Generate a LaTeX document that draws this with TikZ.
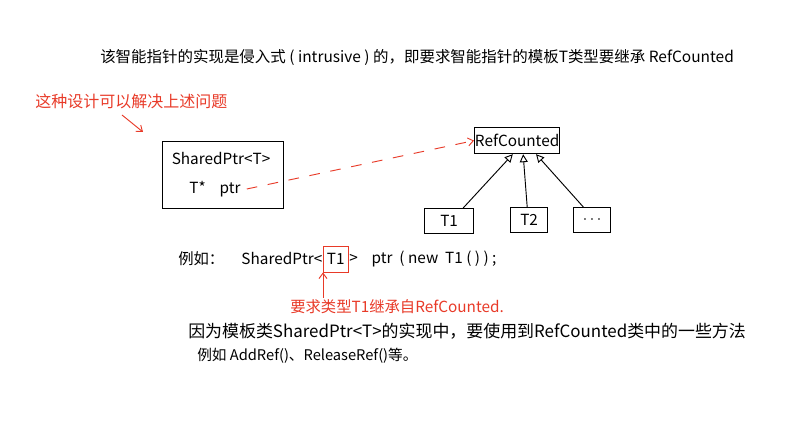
\documentclass[tikz,border=0pt]{standalone}
\usepackage{fontspec}
\setmainfont{Noto Sans CJK SC}
\usetikzlibrary{arrows.meta,calc}
\definecolor{penred}{RGB}{232,58,40}
\tikzset{
  txt/.style={inner sep=0pt, anchor=west, font=\fontsize{11.5}{13}\selectfont},
  redtxt/.style={txt, text=penred},
  box/.style={draw=black, line width=0.9pt, inner sep=0pt},
  inh/.style={draw=black, line width=0.7pt, -{Triangle[open,length=6pt,width=6pt]}},
  redarr/.style={draw=penred, line width=0.7pt, -{Straight Barb[length=4pt,width=6pt]}},
}
\begin{document}
\begin{tikzpicture}[x=0.75pt,y=-0.75pt]
\useasboundingbox (0,0) rectangle (798,434);
% top sentence
\node[txt, font=\fontsize{11.6}{13}\selectfont] (top) at (100,57) {该智能指针的实现是侵入式 ( intrusive ) 的，即要求智能指针的模板T类型要继承 RefCounted};
% red remark
\node[redtxt, font=\fontsize{12}{14}\selectfont] (remark) at (35,101) {这种设计可以解决上述问题};
\coordinate (rmA) at (122,115);
\coordinate (rmB) at (143,132);
\draw[redarr] (rmA) -- (rmB);
% SharedPtr box
\node[box, minimum width=121*0.75pt, minimum height=67*0.75pt, anchor=north west] (sp) at (162,141) {};
\node[txt, anchor=center] (spname) at (221,158) {SharedPtr<T>};
\node[txt, anchor=center] (ptr) at (215,189) {T*\ \ \ \ ptr};
% RefCounted
\node[box, minimum width=85*0.75pt, minimum height=26*0.75pt, anchor=north west] (rc) at (474,127) {};
\node[txt, anchor=center] (rclabel) at (rc.center) {RefCounted};
\coordinate (ptrend) at ($(ptr.east)+(6,0)$);
\draw[penred, line width=0.7pt, dash pattern=on 8pt off 8pt, -{Straight Barb[length=4pt,width=6pt]}] (ptrend) -- (rc.west);
% derived
\node[box, minimum width=49*0.75pt, minimum height=25*0.75pt, anchor=north west] (t1) at (424,208) {};
\node[txt, anchor=center] at (t1.center) {T1};
\node[box, minimum width=37*0.75pt, minimum height=25*0.75pt, anchor=north west] (t2) at (510,207) {};
\node[txt, anchor=center] at (t2.center) {T2};
\node[box, minimum width=37*0.75pt, minimum height=25*0.75pt, anchor=north west] (t3) at (573,207) {};
\node[txt, anchor=center] at (t3.center) {$\cdots$};
\draw[inh] ($(t1.north west)!0.78!(t1.north east)$) -- ($(rc.south west)!0.45!(rc.south east)$);
\draw[inh] ($(t2.north west)!0.45!(t2.north east)$) -- ($(rc.south west)!0.57!(rc.south east)$);
\draw[inh] ($(t3.north west)!0.27!(t3.north east)$) -- ($(rc.south west)!0.72!(rc.south east)$);
% example line
\node[txt] (ex) at (178,259) {例如：\ \ \ \ \ SharedPtr<};
\node[draw=penred, line width=0.7pt, inner xsep=3pt, minimum height=26*0.75pt, font=\fontsize{11.5}{13}\selectfont, anchor=west] (t1box) at (ex.east) {T1};
\node[txt] (exrest) at (t1box.east) {>\ \ \ \ ptr\ \ ( new\ \ T1 ( ) ) ;};
% red note
\node[redtxt] (note) at (290,307) {要求类型T1继承自RefCounted.};
\coordinate (na) at ($(note.north west)+(33,-2)$);
\draw[redarr] (na) -- (na |- t1box.south);
% bottom lines
\node[txt, font=\fontsize{12.7}{15}\selectfont] (b1) at (188,331) {因为模板类SharedPtr<T>的实现中，要使用到RefCounted类中的一些方法};
\node[txt, font=\fontsize{11}{14}\selectfont] (b2) at (197,356) {例如 AddRef()、ReleaseRef()等。};
\end{tikzpicture}
\end{document}
